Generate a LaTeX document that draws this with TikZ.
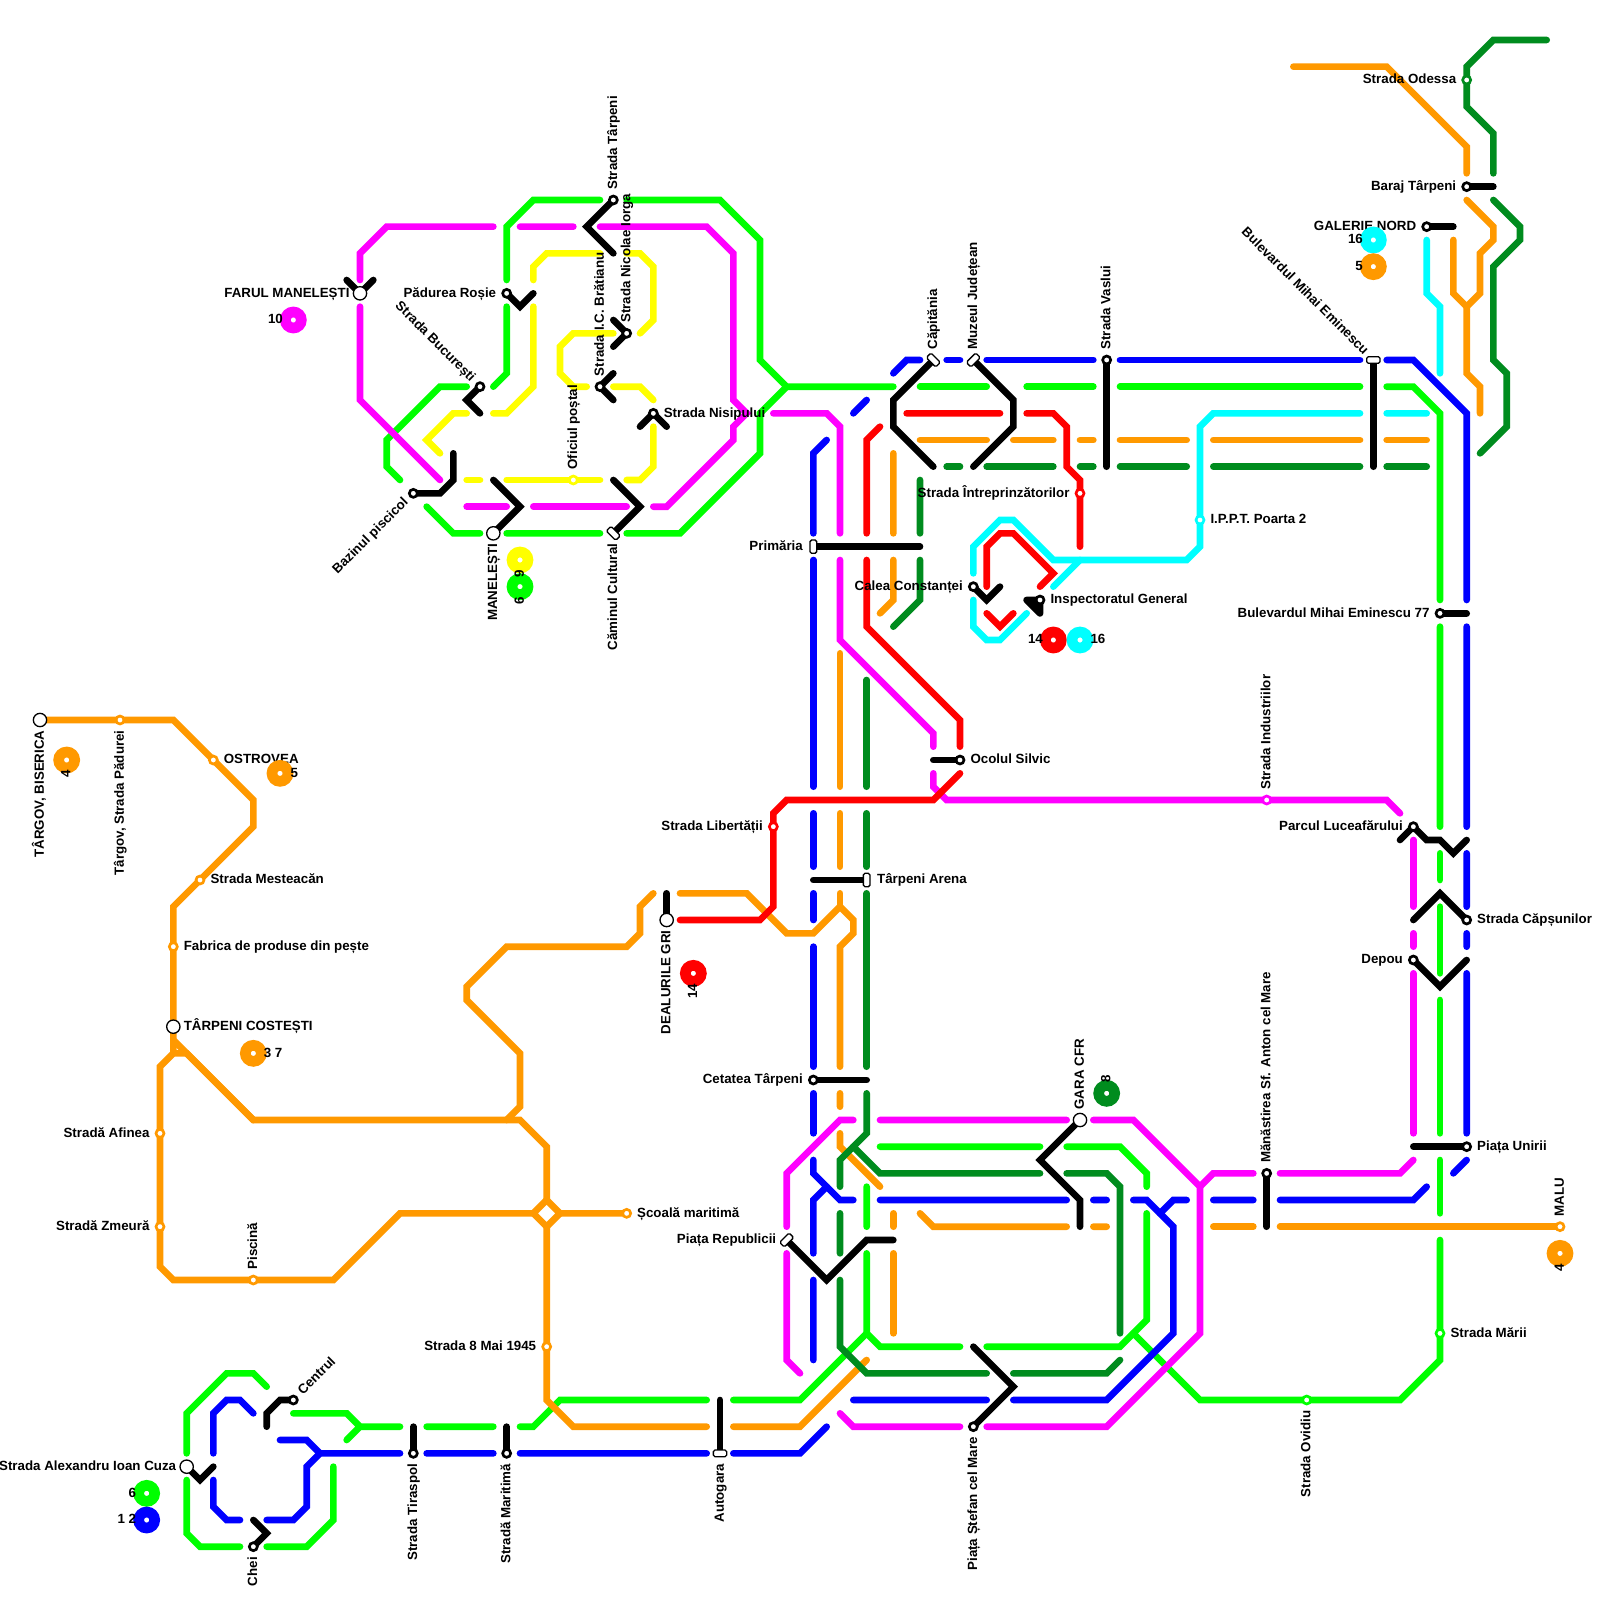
\documentclass[tikz,border=0pt]{standalone}
\usepackage{fontspec}
\setmainfont{Liberation Sans}
\usetikzlibrary{backgrounds}
\definecolor{mgreen}{RGB}{0,255,0}
\definecolor{mdark}{RGB}{0,140,30}
\definecolor{morange}{RGB}{255,153,0}
\definecolor{mblue}{RGB}{0,0,255}
\definecolor{mmagenta}{RGB}{255,0,255}
\definecolor{myellow}{RGB}{255,255,0}
\definecolor{mcyan}{RGB}{0,255,255}
\definecolor{mred}{RGB}{255,0,0}
\tikzset{
  track/.style={line width=.125cm,line cap=round},
  tgreen/.style={track,draw=mgreen},
  tdark/.style={track,draw=mdark},
  torange/.style={track,draw=morange},
  tblue/.style={track,draw=mblue},
  tmagenta/.style={track,draw=mmagenta},
  tyellow/.style={track,draw=myellow},
  tcyan/.style={track,draw=mcyan},
  tred/.style={track,draw=mred},
  tblack/.style={track,draw=black},
  stop/.style={circle,inner sep=0pt,minimum size=.15cm,line width=.05cm,fill=white,draw=#1},
  stop/.default=black,
  term/.style={circle,inner sep=0pt,minimum size=.25cm,line width=.7pt,fill=white,draw=black},
  capsule/.style={rectangle,rounded corners=.03cm,inner sep=0pt,minimum width=.25cm,minimum height=.125cm,line width=.7pt,fill=white,draw=black},
  badge/.style={circle,inner sep=0pt,minimum size=.3cm,line width=.2cm,fill=white,draw=#1},
  lab/.style={inner sep=0pt,text height=5.5pt,text depth=1.5pt,font=\fontsize{7.11}{8}\selectfont\bfseries},
  lblw/.style={lab,anchor=east,xshift=-.19cm},
  lble/.style={lab,anchor=west,xshift=.19cm},
  lbln/.style={lab,yshift=.19cm,rotate=90,anchor=west},
  lbls/.style={lab,yshift=-.19cm,rotate=90,anchor=east},
  lblnw/.style={lab,xshift=-.13cm,yshift=.13cm,rotate=-45,anchor=east},
  lblsw/.style={lab,xshift=-.13cm,yshift=-.13cm,rotate=45,anchor=east},
  lblne/.style={lab,xshift=.13cm,yshift=.13cm,rotate=45,anchor=west}
}
\begin{document}
\begin{tikzpicture}[x=.25cm,y=-.25cm]
  \useasboundingbox (0,0) rectangle (120,120);
  % stations
  \path (46,15) node[stop] (tarpeni) {} node[lbln] (tarpenil) {Strada Târpeni};
  \path (47,25) node[stop] (iorga) {} node[lbln] (iorgal) {Strada Nicolae Iorga};
  \path (45,29) node[stop] (bratianu) {} node[lbln] (bratianul) {Strada I.C. Brătianu};
  \path (38,22) node[stop] (padurea) {} node[lblw] (padureal) {Pădurea Roșie};
  \path (27,22) node[term] (farul) {} node[lblw] (farull) {FARUL MANELEȘTI};
  \path (36,29) node[stop] (bucuresti) {} node[lblnw] (bucurestil) {Strada București};
  \path (31,37) node[stop] (bazin) {} node[lblsw] (bazinl) {Bazinul piscicol};
  \path (43,36) node[stop=myellow] (oficiu) {} node[lbln] (oficiul) {Oficiul poștal};
  \path (49,31) node[stop] (nisip) {} node[lble] (nisipl) {Strada Nisipului};
  \path (37,40) node[term] (manel) {} node[lbls] (manell) {MANELEȘTI};
  \path (46,40) node[capsule,rotate=-45] (camin) {} node[lbls] (caminl) {Căminul Cultural};
  \path (61,41) node[capsule,rotate=90] (primaria) {} node[lblw] (primarial) {Primăria};
  \path (70,27) node[capsule,rotate=-45] (capitania) {} node[lbln] (capitanial) {Căpitănia};
  \path (73,27) node[capsule,rotate=45] (muzeu) {} node[lbln] (muzeul) {Muzeul Județean};
  \path (83,27) node[stop] (vaslui) {} node[lbln] (vasluil) {Strada Vaslui};
  \path (81,37) node[stop=mred] (intrep) {} node[lblw] (intrepl) {Strada Întreprinzătorilor};
  \path (90,39) node[stop=mcyan] (ippt) {} node[lble] (ipptl) {I.P.P.T. Poarta 2};
  \path (73,44) node[stop] (calea) {} node[lblw] (caleal) {Calea Constanței};
  \path (78,45) node[stop] (inspect) {} node[lble] (inspectl) {Inspectoratul General};
  \path (103,27) node[capsule] (mihai) {} node[lblnw] (mihail) {Bulevardul Mihai Eminescu};
  \path (108,46) node[stop] (mihaib) {} node[lblw] (mihaibl) {Bulevardul Mihai Eminescu 77};
  \path (110,6) node[stop=mdark] (odessa) {} node[lblw] (odessal) {Strada Odessa};
  \path (110,14) node[stop] (baraj) {} node[lblw] (barajl) {Baraj Târpeni};
  \path (107,17) node[stop] (galerie) {} node[lblw] (galeriel) {GALERIE NORD};
  \path (95,60) node[stop=mmagenta] (industrii) {} node[lbln] (industriil) {Strada Industriilor};
  \path (106,62) node[stop] (parcul) {} node[lblw] (parcull) {Parcul Luceafărului};
  \path (110,69) node[stop] (capsuni) {} node[lble] (capsunil) {Strada Căpșunilor};
  \path (106,72) node[stop] (depou) {} node[lblw] (depoul) {Depou};
  \path (110,86) node[stop] (unirii) {} node[lble] (uniriil) {Piața Unirii};
  \path (95,88) node[stop] (anton) {} node[lbln] (antonl) {Mănăstirea Sf. Anton cel Mare};
  \path (117,92) node[stop=morange] (malu) {} node[lbln] (malul) {MALU};
  \path (108,100) node[stop=mgreen] (marii) {} node[lble] (mariil) {Strada Mării};
  \path (98,105) node[stop=mgreen] (ovidiu) {} node[lbls] (ovidiul) {Strada Ovidiu};
  \path (72,57) node[stop] (ocolul) {} node[lble] (ocolull) {Ocolul Silvic};
  \path (58,62) node[stop=mred] (liber) {} node[lblw] (liberl) {Strada Libertății};
  \path (65,66) node[capsule,rotate=90] (arena) {} node[lble] (arenal) {Târpeni Arena};
  \path (61,81) node[stop] (cetatea) {} node[lblw] (cetateal) {Cetatea Târpeni};
  \path (50,69) node[term] (dealuri) {} node[lbls] (dealuril) {DEALURILE GRI};
  \path (81,84) node[term] (gara) {} node[lbln] (garal) {GARA CFR};
  \path (59,93) node[capsule,rotate=45] (republicii) {} node[lblw] (republiciil) {Piața Republicii};
  \path (73,107) node[stop] (stefan) {} node[lbls] (stefanl) {Piața Ștefan cel Mare};
  \path (54,109) node[capsule] (autogara) {} node[lbls] (autogaral) {Autogara};
  \path (38,109) node[stop] (maritima) {} node[lbls] (maritimal) {Stradă Maritimă};
  \path (31,109) node[stop] (tiraspol) {} node[lbls] (tiraspoll) {Strada Tiraspol};
  \path (41,101) node[stop=morange] (mai) {} node[lblw] (mail) {Strada 8 Mai 1945};
  \path (47,91) node[stop=morange] (scoala) {} node[lble] (scoalal) {Școală maritimă};
  \path (19,96) node[stop=morange] (piscina) {} node[lbln] (piscinal) {Piscină};
  \path (12,92) node[stop=morange] (zmeura) {} node[lblw] (zmeural) {Stradă Zmeură};
  \path (12,85) node[stop=morange] (afinea) {} node[lblw] (afineal) {Stradă Afinea};
  \path (13,77) node[term] (costesti) {} node[lble] (costestil) {TÂRPENI COSTEȘTI};
  \path (13,71) node[stop=morange] (fabrica) {} node[lble] (fabrical) {Fabrica de produse din pește};
  \path (15,66) node[stop=morange] (mesteacan) {} node[lble] (mesteacanl) {Strada Mesteacăn};
  \path (16,57) node[stop=morange] (ostrovea) {} node[lble] (ostroveal) {OSTROVEA};
  \path (9,54) node[stop=morange] (padurei) {} node[lbls] (padureil) {Târgov, Strada Pădurei};
  \path (3,54) node[term] (biserica) {} node[lbls] (biserical) {TÂRGOV, BISERICA};
  \path (14,110) node[term] (cuza) {} node[lblw] (cuzal) {Strada Alexandru Ioan Cuza};
  \path (19,116) node[stop] (chei) {} node[lbls] (cheil) {Chei};
  \path (22,105) node[stop] (centrul) {} node[lblne] (centrull) {Centrul};
  % line badges
  \path (22,24) node[badge=mmagenta] (bmagenta) {} node[lblw] (bmagental) {10};
  \path (39,42) node[badge=myellow] (byellow) {};
  \path (39,44) node[badge=mgreen] (bgreen) {};
  \path (39,42) node[lbls] (byellowl) {9};
  \path (39,44) node[lbls] (bgreenl) {6};
  \path (79,48) node[badge=mred] (bred) {} node[lblw] (bredl) {14};
  \path (81,48) node[badge=mcyan] (bcyan) {} node[lble] (bcyanl) {16};
  \path (103,18) node[badge=mcyan] (bcyanb) {} node[lblw] (bcyanbl) {16};
  \path (103,20) node[badge=morange] (borange) {} node[lblw] (borangel) {5};
  \path (5,57) node[badge=morange] (bbis) {} node[lbls] (bbisl) {4};
  \path (21,58) node[badge=morange] (bost) {} node[lble] (bostl) {5};
  \path (19,79) node[badge=morange] (bcos) {} node[lble] (bcosl) {3 7};
  \path (52,73) node[badge=mred] (bdeal) {} node[lbls] (bdeall) {14};
  \path (83,82) node[badge=mdark] (bgara) {} node[lbln] (bgaral) {8};
  \path (117,94) node[badge=morange] (bmalu) {} node[lbls] (bmalul) {4};
  \path (11,112) node[badge=mgreen] (bcuza) {} node[lblw] (bcuzal) {6};
  \path (11,114) node[badge=mblue] (bcuzb) {} node[lblw] (bcuzbl) {1 2};
  \begin{scope}[on background layer]
    \fill[white] (0,0) rectangle (120,120);
    % green
    \draw[tgreen] (38,21) -- (38,17) -- (40,15) -- (45,15);
    \draw[tgreen] (47,15) -- (54,15) -- (57,18) -- (57,27) -- (59,29) -- (67,29);
    \draw[tgreen] (59,29) -- (57,31) -- (57,34) -- (51,40) -- (47,40);
    \draw[tgreen] (45,40) -- (38,40) (36,40) -- (34,40) -- (32,38);
    \draw[tgreen] (37,29) -- (38,28) -- (38,23);
    \draw[tgreen] (35,29) -- (33,29) -- (29,33) -- (29,35) -- (30,36);
    \draw[tgreen] (69,29) -- (74,29) (77,29) -- (82,29) (84,29) -- (102,29);
    \draw[tgreen] (104,29) -- (106,29) -- (108,31) -- (108,45) (108,47) -- (108,62);
    \draw[tgreen] (108,64) -- (108,66) (108,68) -- (108,73) (108,75) -- (108,85) (108,87) -- (108,91);
    \draw[tgreen] (108,93) -- (108,102) -- (105,105) -- (90,105) -- (85,100);
    \draw[tgreen] (66,86) -- (78,86) (80,86) -- (84,86) -- (86,88) -- (86,89);
    \draw[tgreen] (86,91) -- (86,99) -- (84,101) -- (74,101);
    \draw[tgreen] (72,101) -- (66,101) -- (65,100) -- (65,94) (65,92) -- (65,89);
    \draw[tgreen] (65,100) -- (60,105) -- (55,105) (53,105) -- (42,105) -- (40,107) -- (39,107);
    \draw[tgreen] (37,107) -- (32,107) (30,107) -- (27,107) -- (26,106) -- (22,106) (26,108) -- (27,107);
    \draw[tgreen] (20,104) -- (19,103) -- (17,103) -- (14,106) -- (14,109);
    \draw[tgreen] (14,111) -- (14,115) -- (15,116) -- (18,116);
    \draw[tgreen] (20,116) -- (23,116) -- (25,114) -- (25,110);
    % orange
    \draw[torange] (97,5) -- (104,5) -- (110,11) -- (110,13);
    \draw[torange] (110,15) -- (112,17) -- (112,18) -- (111,19) -- (111,22) -- (110,23) -- (110,28) -- (111,29) -- (111,31);
    \draw[torange] (109,18) -- (109,22) -- (110,23);
    \draw[torange] (69,33) -- (74,33) (76,33) -- (79,33) (81,33) -- (82,33) (84,33) -- (89,33);
    \draw[torange] (91,33) -- (102,33) (104,33) -- (107,33);
    \draw[torange] (67,34) -- (67,40) (67,42) -- (67,45) -- (66,46);
    \draw[torange] (63,49) -- (63,59) (63,61) -- (63,65) (63,67) -- (63,68);
    \draw[torange] (51,67) -- (56,67) -- (59,70) -- (61,70) -- (63,68) -- (64,69) -- (64,70) -- (63,71) -- (63,80);
    \draw[torange] (63,82) -- (63,83) (63,85) -- (63,86) -- (66,89);
    \draw[torange] (67,91) -- (67,92) (67,94) -- (67,100);
    \draw[torange] (69,91) -- (70,92) -- (80,92) (82,92) -- (83,92);
    \draw[torange] (91,92) -- (94,92) (96,92) -- (malu.center);
    \draw[torange] (65,102) -- (60,107) -- (55,107) (53,107) -- (43,107) -- (41,105) -- (41,92);
    \draw[torange] (41,90) -- (42,91) -- (41,92) -- (40,91) -- cycle;
    \draw[torange] (42,91) -- (scoala.center) (40,91) -- (30,91) -- (25,96) -- (13,96) -- (12,95) -- (12,80) -- (13,79) -- (14,79) -- (19,84) -- (39,84) -- (41,86) -- (41,90);
    \draw[torange] (biserica.center) -- (13,54) -- (19,60) -- (19,62) -- (13,68) -- (13,78) -- (19,84);
    \draw[torange] (13,79) -- (13,78) (38,84) -- (39,83) -- (39,79) -- (35,75) -- (35,74) -- (38,71) -- (47,71) -- (48,70) -- (48,68) -- (49,67);
    % dark green
    \draw[tdark] (116,3) -- (112,3) -- (110,5) -- (110,8) -- (112,10) -- (112,13);
    \draw[tdark] (112,15) -- (114,17) -- (114,18) -- (112,20) -- (112,27) -- (113,28) -- (113,32) -- (111,34);
    \draw[tdark] (71,35) -- (72,35) (74,35) -- (79,35) (81,35) -- (82,35) (84,35) -- (89,35);
    \draw[tdark] (91,35) -- (102,35) (104,35) -- (107,35);
    \draw[tdark] (69,36) -- (69,40) (69,42) -- (69,45) -- (67,47);
    \draw[tdark] (65,51) -- (65,59) (65,61) -- (65,65) (65,67) -- (65,80);
    \draw[tdark] (65,82) -- (65,85) -- (63,87) -- (63,89) (63,91) -- (63,94);
    \draw[tdark] (64,86) -- (66,88) -- (78,88) (80,88) -- (83,88) -- (84,89) -- (84,100);
    \draw[tdark] (84,102) -- (83,103) -- (76,103) (74,103) -- (65,103) -- (63,101) -- (63,96);
    % blue
    \draw[tblue] (61,40) -- (61,34) -- (62,33) (64,31) -- (65,30) (67,28) -- (68,27) -- (69,27);
    \draw[tblue] (71,27) -- (72,27) (74,27) -- (82,27) (84,27) -- (102,27);
    \draw[tblue] (104,27) -- (106,27) -- (110,31) -- (110,45) (110,47) -- (110,62);
    \draw[tblue] (110,64) -- (110,68) (110,70) -- (110,71) (110,73) -- (110,85) (110,87) -- (109,88);
    \draw[tblue] (107,89) -- (106,90) -- (96,90) (94,90) -- (91,90) (89,90) -- (88,90) -- (87,91);
    \draw[tblue] (85,90) -- (86,90) -- (88,92) -- (88,100) -- (83,105) -- (76,105) (74,105) -- (64,105);
    \draw[tblue] (82,90) -- (83,90) (80,90) -- (66,90) (64,90) -- (63,90) -- (61,88) -- (61,87);
    \draw[tblue] (62,89) -- (61,90) -- (61,94) (61,96) -- (61,102);
    \draw[tblue] (61,42) -- (61,59) (61,61) -- (61,65) (61,67) -- (61,69) (61,71) -- (61,80) (61,82) -- (61,85);
    \draw[tblue] (62,107) -- (60,109) -- (55,109) (53,109) -- (39,109) (37,109) -- (32,109) (30,109) -- (24,109) -- (23,110) -- (23,113) -- (22,114) -- (20,114);
    \draw[tblue] (24,109) -- (23,108) -- (21,108);
    \draw[tblue] (19,106) -- (18,105) -- (17,105) -- (16,106) -- (16,109);
    \draw[tblue] (16,111) -- (16,113) -- (17,114) -- (18,114);
    % magenta
    \draw[tmagenta] (27,21) -- (27,19) -- (29,17) -- (37,17) (39,17) -- (43,17);
    \draw[tmagenta] (45,17) -- (53,17) -- (55,19) -- (55,30) -- (56,31) -- (55,32) -- (55,33) -- (50,38) -- (49,38);
    \draw[tmagenta] (47,38) -- (40,38) (38,38) -- (35,38);
    \draw[tmagenta] (27,23) -- (27,30) -- (33,36);
    \draw[tmagenta] (58,31) -- (62,31) -- (63,32) -- (63,40) (63,42) -- (63,48) -- (70,55) -- (70,56);
    \draw[tmagenta] (70,58) -- (70,59) -- (71,60) -- (104,60) -- (105,61);
    \draw[tmagenta] (106,63) -- (106,68) (106,70) -- (106,71) (106,73) -- (106,85);
    \draw[tmagenta] (106,87) -- (105,88) -- (96,88) (94,88) -- (91,88) -- (90,89);
    \draw[tmagenta] (64,84) -- (63,84) -- (59,88) -- (59,92) (59,94) -- (59,102) -- (60,103);
    \draw[tmagenta] (66,84) -- (80,84) (82,84) -- (85,84) -- (90,89) -- (90,100) -- (83,107) -- (74,107);
    \draw[tmagenta] (72,107) -- (64,107) -- (63,106);
    % yellow
    \draw[tyellow] (40,21) -- (40,20) -- (41,19) -- (45,19) (47,19) -- (48,19) -- (49,20) -- (49,24) -- (48,25);
    \draw[tyellow] (46,25) -- (43,25) -- (42,26) -- (42,28) -- (43,29) -- (44,29);
    \draw[tyellow] (46,29) -- (48,29) -- (49,30) (49,32) -- (49,35) -- (48,36) -- (47,36);
    \draw[tyellow] (45,36) -- (38,36) (36,36) -- (35,36);
    \draw[tyellow] (40,23) -- (40,29) -- (38,31) -- (37,31) (35,31) -- (34,31) -- (32,33) -- (33,34);
    % red
    \draw[tred] (65,40) -- (65,33) -- (66,32) (68,31) -- (75,31);
    \draw[tred] (77,31) -- (79,31) -- (80,32) -- (80,35) -- (81,36) -- (81,41);
    \draw[tred] (74,44) -- (74,41) -- (75,40) -- (76,40) -- (79,43) -- (78,44);
    \draw[tred] (74,46) -- (75,47) -- (76,46);
    \draw[tred] (65,42) -- (65,47) -- (72,54) -- (72,56);
    \draw[tred] (72,58) -- (70,60) -- (59,60) -- (58,61) -- (58,68) -- (57,69) -- (51,69);
    % cyan
    \draw[tcyan] (107,18) -- (107,22) -- (108,23) -- (108,28);
    \draw[tcyan] (107,31) -- (104,31) (102,31) -- (91,31) -- (90,32) -- (90,41) -- (89,42) -- (79,42) -- (76,39) -- (75,39) -- (73,41) -- (73,43);
    \draw[tcyan] (73,45) -- (73,47) -- (74,48) -- (75,48) -- (77,46);
    \draw[tcyan] (79,44) -- (81,42);
    % links between lines
    \draw[tblack] (tarpeni.center) -- (44,17) -- (46,19);
    \draw[tblack] (26,21) -- (farul.center) -- (28,21);
    \draw[tblack] (padurea.center) -- (39,23) -- (40,22);
    \draw[tblack] (bucuresti.center) -- (35,30) -- (36,31);
    \draw[tblack] (46,24) -- (iorga.center) -- (46,26);
    \draw[tblack] (46,28) -- (bratianu.center) -- (46,30);
    \draw[tblack] (48,32) -- (nisip.center) -- (50,32);
    \draw[tblack] (bazin.center) -- (33,37) -- (34,36) -- (34,34);
    \draw[tblack] (manel.center) -- (39,38) -- (37,36);
    \draw[tblack] (camin.center) -- (48,38) -- (46,36);
    \draw[tblack] (primaria.center) -- (69,41);
    \draw[tblack] (capitania.center) -- (67,30) -- (67,32) -- (70,35);
    \draw[tblack] (muzeu.center) -- (76,30) -- (76,32) -- (73,35);
    \draw[tblack] (vaslui.center) -- (83,35);
    \draw[tblack] (mihai.center) -- (103,35);
    \draw[tblack] (mihaib.center) -- (110,46);
    \draw[tblack] (baraj.center) -- (112,14);
    \draw[tblack] (galerie.center) -- (109,17);
    \draw[tblack] (calea.center) -- (74,45) -- (75,44);
    \draw[tblack,fill=black,line join=round] (inspect.center) -- (78,46) -- (77,45) -- cycle;
    \draw[tblack] (105,63) -- (parcul.center) -- (107,63) -- (108,63) -- (109,64) -- (110,63);
    \draw[tblack] (capsuni.center) -- (108,67) -- (106,69);
    \draw[tblack] (depou.center) -- (108,74) -- (110,72);
    \draw[tblack] (unirii.center) -- (106,86);
    \draw[tblack] (anton.center) -- (95,92);
    \draw[tblack] (ocolul.center) -- (70,57);
    \draw[tblack] (arena.center) -- (61,66);
    \draw[tblack] (cetatea.center) -- (65,81);
    \draw[tblack] (dealuri.center) -- (50,67);
    \draw[tblack] (gara.center) -- (78,87) -- (81,90) -- (81,92);
    \draw[tblack] (republicii.center) -- (62,96) -- (65,93) -- (67,93);
    \draw[tblack] (stefan.center) -- (76,104) -- (73,101);
    \draw[tblack] (autogara.center) -- (54,105);
    \draw[tblack] (maritima.center) -- (38,107);
    \draw[tblack] (tiraspol.center) -- (31,107);
    \draw[tblack] (cuza.center) -- (15,111) -- (16,110);
    \draw[tblack] (chei.center) -- (20,115) -- (19,114);
    \draw[tblack] (centrul.center) -- (21,105) -- (20,106) -- (20,107);
  \end{scope}
\end{tikzpicture}
\end{document}
